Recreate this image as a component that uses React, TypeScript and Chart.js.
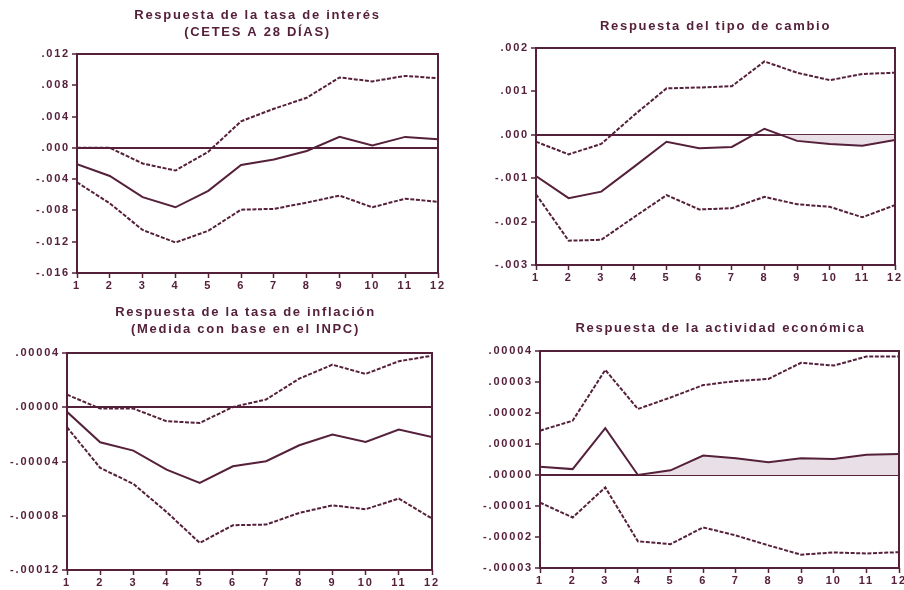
import React, { useEffect, useRef } from "react";
import { Chart, registerables } from "chart.js";

Chart.register(...registerables);

// Horizonte de la respuesta (meses)
const periodos = [1, 2, 3, 4, 5, 6, 7, 8, 9, 10, 11, 12];

// Tasa de interés (CETES a 28 días)
const interesRespuesta = [-0.0021, -0.0036, -0.0063, -0.0076, -0.0055, -0.0022, -0.0015, -0.0004, 0.0014, 0.0003, 0.0014, 0.0011];
const interesSuperior = [0.0, 0.0, -0.002, -0.0029, -0.0005, 0.0034, 0.005, 0.0064, 0.009, 0.0085, 0.0092, 0.0089];
const interesInferior = [-0.0044, -0.0071, -0.0105, -0.0121, -0.0106, -0.0079, -0.0078, -0.007, -0.0061, -0.0076, -0.0065, -0.0069];
const interesMarcas = [-0.016, -0.012, -0.008, -0.004, 0, 0.004, 0.008, 0.012];

// Tipo de cambio
const cambioRespuesta = [-0.00095, -0.00146, -0.00131, -0.00074, -0.00016, -0.00031, -0.00028, 0.00014, -0.00014, -0.00021, -0.00025, -0.00012];
const cambioSuperior = [-0.00016, -0.00045, -0.00021, 0.00045, 0.00107, 0.00109, 0.00112, 0.00169, 0.00143, 0.00126, 0.0014, 0.00143];
const cambioInferior = [-0.00137, -0.00244, -0.00242, -0.0019, -0.00139, -0.00172, -0.00169, -0.00143, -0.0016, -0.00166, -0.0019, -0.00162];
const cambioMarcas = [-0.003, -0.002, -0.001, 0, 0.001, 0.002];

// Tasa de inflación (INPC)
const inflacionRespuesta = [-0.0000034, -0.0000258, -0.000032, -0.000046, -0.0000558, -0.0000435, -0.0000398, -0.000028, -0.0000202, -0.0000256, -0.0000165, -0.0000219];
const inflacionSuperior = [0.0000093, -0.000001, -0.000001, -0.0000103, -0.0000116, 0.0000002, 0.0000057, 0.0000211, 0.0000314, 0.0000246, 0.0000339, 0.000038];
const inflacionInferior = [-0.0000147, -0.0000447, -0.0000565, -0.0000772, -0.0001, -0.000087, -0.0000865, -0.0000779, -0.0000723, -0.0000752, -0.0000673, -0.0000821];
const inflacionMarcas = [-0.00012, -0.00008, -0.00004, 0, 0.00004];

// Actividad económica
const actividadRespuesta = [0.0000027, 0.0000019, 0.0000151, 0.0, 0.0000015, 0.0000063, 0.0000054, 0.0000041, 0.0000054, 0.0000052, 0.0000065, 0.0000068];
const actividadSuperior = [0.0000143, 0.0000175, 0.0000339, 0.0000213, 0.000025, 0.000029, 0.0000303, 0.000031, 0.0000362, 0.0000353, 0.0000382, 0.0000382];
const actividadInferior = [-0.0000089, -0.0000137, -0.000004, -0.0000214, -0.0000223, -0.0000169, -0.0000195, -0.0000227, -0.0000257, -0.000025, -0.0000253, -0.0000249];
const actividadMarcas = [-0.00003, -0.00002, -0.00001, 0, 0.00001, 0.00002, 0.00003, 0.00004];

const TINTA = "#55203a";
const SOMBRA = "#e9dfe6";
const FAMILIA = "'Liberation Sans', Arial, sans-serif";

type Panel = {
  titulo: string[];
  respuesta: number[];
  superior: number[];
  inferior: number[];
  marcas: number[];
  decimales: number;
  sombraDesde?: number;
  sombraSigno?: "above" | "below";
  caja: { left: number; top: number; width: number; height: number };
  ejeY: number;
  derecha: number;
  arriba: number;
  abajo: number;
  tituloY: number;
  tituloDx: number;
};

const paneles: Panel[] = [
  {
    titulo: ["Respuesta de la tasa de interés", "(CETES A 28 DÍAS)"],
    respuesta: interesRespuesta,
    superior: interesSuperior,
    inferior: interesInferior,
    marcas: interesMarcas,
    decimales: 3,
    caja: { left: 0, top: 0, width: 452, height: 295 },
    ejeY: 77, derecha: 14, arriba: 54, abajo: 22, tituloY: 15, tituloDx: 0,
  },
  {
    titulo: ["Respuesta del tipo de cambio"],
    respuesta: cambioRespuesta,
    superior: cambioSuperior,
    inferior: cambioInferior,
    marcas: cambioMarcas,
    decimales: 3,
    sombraDesde: 8,
    sombraSigno: "below",
    caja: { left: 452, top: 0, width: 452, height: 295 },
    ejeY: 84, derecha: 9, arriba: 48, abajo: 30, tituloY: 26, tituloDx: 0,
  },
  {
    titulo: ["Respuesta de la tasa de inflación", "(Medida con base en el INPC)"],
    respuesta: inflacionRespuesta,
    superior: inflacionSuperior,
    inferior: inflacionInferior,
    marcas: inflacionMarcas,
    decimales: 5,
    caja: { left: 0, top: 295, width: 452, height: 295 },
    ejeY: 67, derecha: 20, arriba: 58, abajo: 20, tituloY: 17, tituloDx: -4,
  },
  {
    titulo: ["Respuesta de la actividad económica"],
    respuesta: actividadRespuesta,
    superior: actividadSuperior,
    inferior: actividadInferior,
    marcas: actividadMarcas,
    decimales: 5,
    sombraDesde: 4,
    sombraSigno: "above",
    caja: { left: 452, top: 295, width: 470, height: 295 },
    ejeY: 88, derecha: 23, arriba: 56, abajo: 22, tituloY: 33, tituloDx: 1,
  },
];

// Marco del área de trazado y título centrado sobre ella
const marcoPlugin = {
  id: "marco",
  beforeDraw(chart: any) {
    (chart.ctx as any).letterSpacing = "1.8px";
  },
  afterDraw(chart: any, _args: any, opts: any) {
    const { ctx, chartArea: a } = chart;
    ctx.save();
    ctx.strokeStyle = TINTA;
    ctx.lineWidth = 2;
    ctx.strokeRect(a.left, a.top, a.right - a.left, a.bottom - a.top);
    ctx.fillStyle = TINTA;
    ctx.font = `bold 13px ${FAMILIA}`;
    (ctx as any).letterSpacing = "1.7px";
    ctx.textAlign = "center";
    ctx.textBaseline = "middle";
    const cx = (a.left + a.right) / 2 + opts.dx;
    (opts.lineas as string[]).forEach((t, i) => ctx.fillText(t, cx, opts.y + i * 17));
    ctx.restore();
    (ctx as any).letterSpacing = "0px";
  },
};

const puntos = (valores: number[]) => valores.map((y, i) => ({ x: periodos[i], y }));

function PanelIRF({ p }: { p: Panel }) {
  const ref = useRef<HTMLCanvasElement | null>(null);

  useEffect(() => {
    if (!ref.current) return;
    const fuente = { family: FAMILIA, size: 11, weight: "bold" as const };
    const rayado = [4, 1.6];
    const datasets: any[] = [
      { data: puntos(p.superior), borderColor: TINTA, borderWidth: 2, borderDash: rayado, order: 1 },
      { data: puntos(p.respuesta), borderColor: TINTA, borderWidth: 2, order: 0 },
      { data: puntos(p.inferior), borderColor: TINTA, borderWidth: 2, borderDash: rayado, order: 2 },
    ];
    if (p.sombraDesde !== undefined) {
      const desde = periodos.indexOf(p.sombraDesde);
      datasets.push({
        data: puntos(p.respuesta).slice(desde),
        borderColor: "rgba(0,0,0,0)",
        borderWidth: 0,
        order: 10,
        fill: {
          target: { value: 0 },
          above: p.sombraSigno === "above" ? SOMBRA : "rgba(0,0,0,0)",
          below: p.sombraSigno === "below" ? SOMBRA : "rgba(0,0,0,0)",
        },
      });
    }

    const chart = new Chart(ref.current, {
      type: "line",
      data: { datasets },
      plugins: [marcoPlugin],
      options: {
        animation: false,
        responsive: false,
        maintainAspectRatio: false,
        devicePixelRatio: 1,
        elements: { point: { radius: 0 }, line: { tension: 0 } },
        layout: { padding: { left: 0, right: p.derecha, top: p.arriba, bottom: 0 } },
        plugins: {
          legend: { display: false },
          tooltip: { enabled: false },
          title: { display: false },
          marco: { lineas: p.titulo, y: p.tituloY, dx: p.tituloDx },
        } as any,
        scales: {
          x: {
            type: "linear",
            min: periodos[0],
            max: periodos[periodos.length - 1],
            afterBuildTicks: (s: any) => {
              s.ticks = periodos.map((v) => ({ value: v }));
            },
            afterFit: (s: any) => {
              s.height = p.abajo;
            },
            border: { display: false },
            grid: { drawOnChartArea: false, drawTicks: true, tickLength: 5, tickColor: TINTA, tickWidth: 1.5 },
            ticks: { color: TINTA, font: fuente, padding: 1, autoSkip: false, maxRotation: 0, callback: (v: any) => String(v) },
          },
          y: {
            type: "linear",
            min: p.marcas[0],
            max: p.marcas[p.marcas.length - 1],
            z: 1,
            afterBuildTicks: (s: any) => {
              s.ticks = p.marcas.map((v) => ({ value: v }));
            },
            afterFit: (s: any) => {
              s.width = p.ejeY;
            },
            border: { display: false },
            grid: {
              drawOnChartArea: true,
              drawTicks: true,
              tickLength: 5,
              lineWidth: 2,
              tickWidth: 1.5,
              tickColor: TINTA,
              color: (c: any) => (c.tick && Math.abs(c.tick.value) < 1e-12 ? TINTA : "rgba(0,0,0,0)"),
            },
            ticks: {
              color: TINTA,
              font: fuente,
              padding: 2,
              callback: (v: any) => Number(v).toFixed(p.decimales).replace("0.", "."),
            },
          },
        },
      },
    });
    return () => chart.destroy();
  }, [p]);

  return (
    <canvas
      ref={ref}
      width={p.caja.width}
      height={p.caja.height}
      style={{ position: "absolute", left: p.caja.left, top: p.caja.top, width: p.caja.width, height: p.caja.height }}
    />
  );
}

export default function App() {
  return (
    <div style={{ position: "absolute", left: 0, top: 0, width: 904, height: 590, overflow: "hidden", background: "#ffffff" }}>
      {paneles.map((p, i) => (
        <PanelIRF key={i} p={p} />
      ))}
    </div>
  );
}
